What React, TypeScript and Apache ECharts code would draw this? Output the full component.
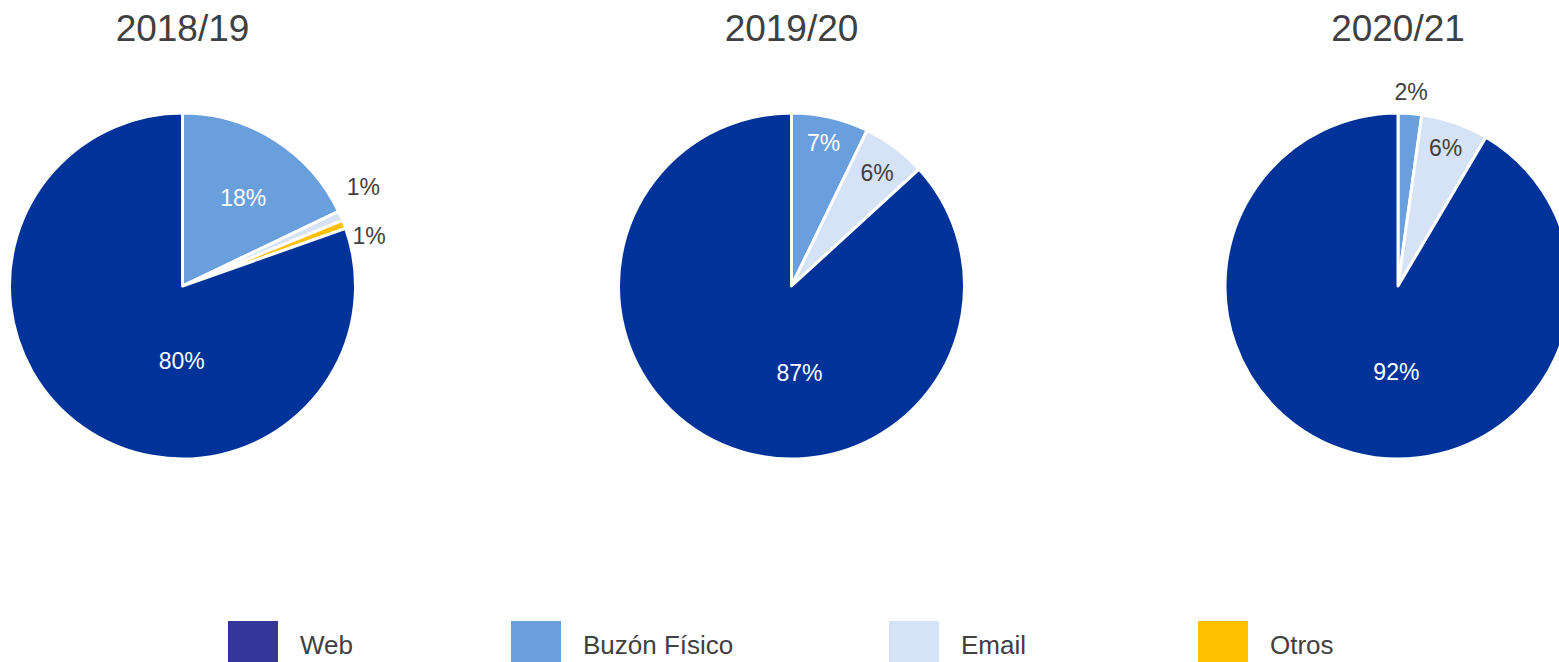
import React, { useEffect, useRef } from "react";
import * as echarts from "echarts";

// ---- data ----
const SEASONS = ["2018/19", "2019/20", "2020/21"];
const SLICE_ORDER = ["Buzón Físico", "Email", "Otros", "Web"]; // clockwise from 12 o'clock
const LEGEND_ORDER = ["Web", "Buzón Físico", "Email", "Otros"];
const SHARE_2018_19 = [17.9, 0.9, 0.8, 80.4];
const SHARE_2019_20 = [7.2, 6.0, 0, 86.8];
const SHARE_2020_21 = [2.2, 6.3, 0, 91.5];
const SHARES = [SHARE_2018_19, SHARE_2019_20, SHARE_2020_21];

// ---- styling / layout ----
const FONT = "'Liberation Sans', Arial, sans-serif";
const TEXT = "#404040";
const SLICE_COLORS: Record<string, string> = {
  Web: "#003399",
  "Buzón Físico": "#6A9FDE",
  Email: "#D6E2F5",
  Otros: "#FFC000",
};
const LEGEND_COLORS: Record<string, string> = {
  Web: "#35359A",
  "Buzón Físico": "#6A9FDE",
  Email: "#D6E2F5",
  Otros: "#FFC000",
};
const CENTERS_X = [182.5, 791.5, 1398];
const CENTER_Y = 286;
const RADIUS = 173;
const LEGEND_LEFT = [228, 511, 889, 1198];
// label shift from ECharts' default inside position [dx, dy], and label colour
const LABEL_SHIFT: Record<string, [number, number]>[] = [
  { "Buzón Físico": [13, -12], Email: [99, -63], Otros: [103, -18], Web: [51, 2] },
  { "Buzón Físico": [12, -56], Email: [32, -41], Web: [44, 5] },
  { "Buzón Físico": [7, -105], Email: [18, -54], Web: [22, 0] },
];
const LABEL_COLOR: Record<string, string>[] = [
  { "Buzón Físico": "#ffffff", Email: TEXT, Otros: TEXT, Web: "#ffffff" },
  { "Buzón Físico": "#ffffff", Email: TEXT, Web: "#ffffff" },
  { "Buzón Físico": TEXT, Email: TEXT, Web: "#ffffff" },
];

export default function App() {
  const ref = useRef<HTMLDivElement>(null);
  useEffect(() => {
    if (!ref.current) return;
    const chart = echarts.init(ref.current, undefined, { renderer: "svg" });

    const series = SHARES.map((shares, si) => {
      const data = SLICE_ORDER.map((name, i) => ({ name, value: shares[i] })).filter(
        (d) => d.value > 0
      );
      return {
        type: "pie",
        name: SEASONS[si],
        center: [CENTERS_X[si], CENTER_Y],
        radius: RADIUS,
        startAngle: 90,
        clockwise: true,
        percentPrecision: 0,
        avoidLabelOverlap: false,
        itemStyle: { borderColor: "#ffffff", borderWidth: 3 },
        emphasis: { disabled: true },
        labelLine: { show: false },
        label: {
          show: true,
          position: "inside",
          formatter: "{d}%",
          fontFamily: FONT,
          fontSize: 23,
        },
        labelLayout: (p: any) => {
          const s = LABEL_SHIFT[si][data[p.dataIndex].name] || [0, 0];
          return { dx: s[0], dy: s[1] };
        },
        data: data.map((d) => ({
          ...d,
          itemStyle: { color: SLICE_COLORS[d.name] },
          label: { color: LABEL_COLOR[si][d.name] },
        })),
      };
    });

    const title = SEASONS.map((s, i) => ({
      text: s,
      left: CENTERS_X[i],
      top: 10,
      textAlign: "center",
      padding: 0,
      textStyle: { fontFamily: FONT, fontSize: 37, fontWeight: "normal", color: TEXT },
    }));

    const legend = LEGEND_ORDER.map((name, i) => ({
      data: [{ name, itemStyle: { color: LEGEND_COLORS[name] } }],
      left: LEGEND_LEFT[i],
      top: 621,
      padding: 0,
      icon: "rect",
      itemWidth: 50,
      itemHeight: 48,
      selectedMode: false,
      itemStyle: { borderWidth: 0 },
      textStyle: { fontFamily: FONT, fontSize: 26, color: TEXT, padding: [0, 0, 0, 17] },
    }));

    chart.setOption({
      animation: false,
      backgroundColor: "#ffffff",
      title,
      legend,
      series,
    });
    return () => chart.dispose();
  }, []);
  return (
    <div
      ref={ref}
      style={{ position: "fixed", left: 0, top: 0, width: 1559, height: 662 }}
    />
  );
}
